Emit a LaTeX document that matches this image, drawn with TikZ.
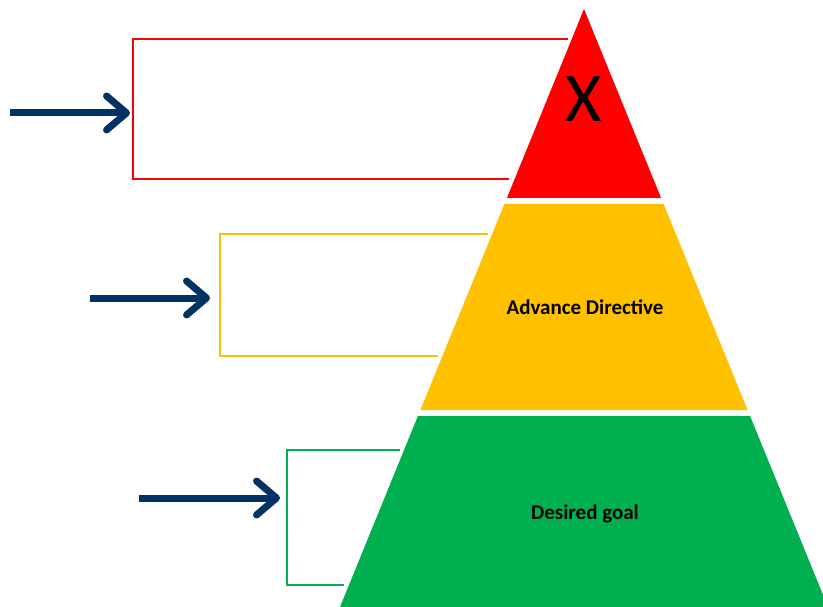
\documentclass[tikz,border=0pt]{standalone}
\usepackage{fontspec}
\setmainfont{Carlito}
\usetikzlibrary{arrows.meta}
\definecolor{tier red}{RGB}{255,0,0}
\definecolor{tier yellow}{RGB}{255,192,0}
\definecolor{tier green}{RGB}{0,176,80}
\definecolor{navy}{RGB}{0,50,100}
\begin{document}
\begin{tikzpicture}[x=1pt,y=-1pt,line cap=round,line join=round,
    bracket/.style={line width=2pt,line cap=rect,line join=miter},
    pointer/.style={navy,line width=7pt,line cap=butt,
      -{Straight Barb[round,length=20pt,width=34pt]}},
    label/.style={font=\bfseries\fontsize{21}{24}\selectfont,text=black}]
        \useasboundingbox (0,0) rectangle (823,607);

        % pyramid bands
        \fill[tier red] (584,9) -- (661.1,198) -- (506.9,198) -- cycle;
        \fill[tier yellow] (504.4,204) -- (663.6,204) -- (747.6,410) -- (420.4,410) -- cycle;
        \fill[tier green] (417.9,416) -- (750.1,416) -- (828,607) -- (340,607) -- cycle;

        \node (riskX) at (584,99) {\fontsize{70}{70}\selectfont X};
        \node[label] (directive) at (585,307) {Advance Directive};
        \node[label] (goal) at (585,514) {Desired goal};

        % brackets
        \draw[bracket,tier red] (567,39) -- (133,39) -- (133,179) -- (508,179);
        \draw[bracket,tier yellow] (487,234) -- (220,234) -- (220,356) -- (437,356);
        \draw[bracket,tier green] (399,450) -- (287,450) -- (287,585) -- (343,585);

        \coordinate (redbr) at (130,113);
        \coordinate (yellowbr) at (210,298);
        \coordinate (greenbr) at (280,498);
        \coordinate (tailA) at (10,113);
        \coordinate (tailB) at (90,298);
        \coordinate (tailC) at (139,498);

        \draw[pointer] (tailA) -- (redbr);
        \draw[pointer] (tailB) -- (yellowbr);
        \draw[pointer] (tailC) -- (greenbr);
      \end{tikzpicture}
\end{document}
